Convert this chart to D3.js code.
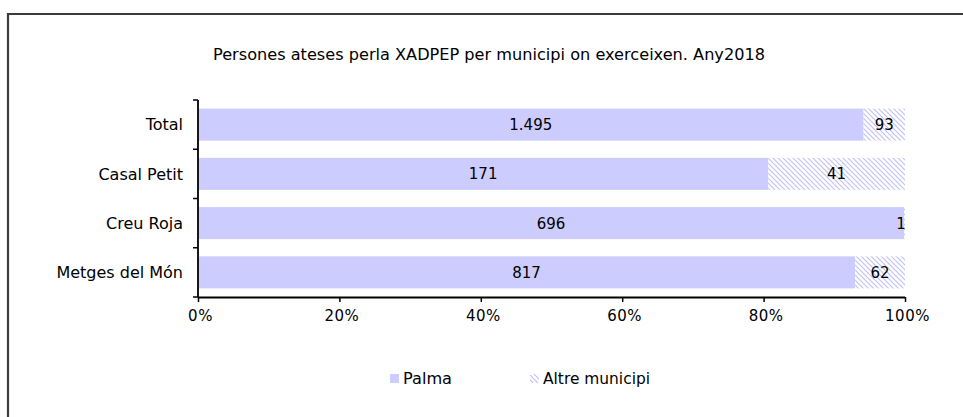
<!DOCTYPE html>
<html>
<head>
<meta charset="utf-8">
<script src="https://cdn.jsdelivr.net/npm/d3@7"></script>
<style>
  html, body { margin: 0; padding: 0; background: #fff; }
  svg { display: block; }
  text { font-family: "DejaVu Sans", Arial, sans-serif; fill: #000; }
</style>
</head>
<body>
<svg id="chart" width="963" height="417"></svg>
<script>
// ---- data ----
const title = "Persones ateses perla XADPEP per municipi on exerceixen. Any2018";
const categories = ["Total", "Casal Petit", "Creu Roja", "Metges del Món"];
const seriesNames = ["Palma", "Altre municipi"];
const palma = [1495, 171, 696, 817];
const altre = [93, 41, 1, 62];
const palmaLabels = ["1.495", "171", "696", "817"];
const altreLabels = ["93", "41", "1", "62"];
const xTicks = [0, 0.2, 0.4, 0.6, 0.8, 1];
const xTickLabels = ["0%", "20%", "40%", "60%", "80%", "100%"];

// ---- layout ----
const W = 963, H = 417;
const plot = { left: 198, right: 905, top: 100, bottom: 297 };
const svg = d3.select("#chart");

const defs = svg.append("defs");
const pat = defs.append("pattern")
  .attr("id", "hatch").attr("patternUnits", "userSpaceOnUse")
  .attr("width", 5).attr("height", 5);
pat.append("rect").attr("width", 5).attr("height", 5).attr("fill", "#fff");
pat.append("path").attr("d", "M-1,-1 L6,6 M-1,4 L1,6 M4,-1 L6,1")
  .attr("stroke", "#c2c2f4").attr("stroke-width", 1.2);

// frame
svg.append("path")
  .attr("d", `M8,${H + 2} L8,14 L${W + 2},14`)
  .attr("fill", "none").attr("stroke", "#3c3c3c").attr("stroke-width", 2.2);

// title
svg.append("text")
  .attr("x", (213 + 765) / 2).attr("y", 60)
  .attr("text-anchor", "middle")
  .attr("font-size", 15)
  .attr("textLength", 552).attr("lengthAdjust", "spacingAndGlyphs")
  .text(title);

// data table
const rows = categories.map((c, i) => ({ cat: c, Palma: palma[i], "Altre municipi": altre[i], i }));
const stacked = d3.stack().keys(seriesNames).offset(d3.stackOffsetExpand)(rows);

const x = d3.scaleLinear().domain([0, 1]).range([plot.left, plot.right]);
const y = d3.scaleBand().domain(categories).range([plot.top, plot.bottom])
  .paddingInner(0.35).paddingOuter(0.175);

const fills = { "Palma": "#ccccff", "Altre municipi": "url(#hatch)" };
const labels = { "Palma": palmaLabels, "Altre municipi": altreLabels };

stacked.forEach(s => {
  const g = svg.append("g");
  g.selectAll("rect").data(s).join("rect")
    .attr("x", d => x(d[0]))
    .attr("y", d => y(d.data.cat))
    .attr("width", d => x(d[1]) - x(d[0]))
    .attr("height", y.bandwidth())
    .attr("fill", fills[s.key]);
});
stacked.forEach(s => {
  svg.append("g").selectAll("text").data(s).join("text")
    .attr("x", d => Math.min((x(d[0]) + x(d[1])) / 2, plot.right - 4))
    .attr("y", d => y(d.data.cat) + y.bandwidth() / 2)
    .attr("dy", "0.36em")
    .attr("text-anchor", "middle")
    .attr("font-size", 15)
    .text(d => labels[s.key][d.data.i]);
});

// y axis
const yAxis = svg.append("g").attr("transform", `translate(${plot.left},0)`)
  .call(d3.axisLeft(y).tickSize(0).tickPadding(15));
yAxis.select(".domain").remove();
yAxis.selectAll("text").attr("font-size", 16).attr("font-family", "DejaVu Sans").attr("dy", "0.36em");
const bounds = categories.map(c => y(c) - y.step() * y.paddingInner() / 2).concat([plot.bottom]);
bounds[0] = plot.top;
svg.append("g").selectAll("line").data(bounds).join("line")
  .attr("x1", plot.left - 5).attr("x2", plot.left)
  .attr("y1", d => d).attr("y2", d => d)
  .attr("stroke", "#000").attr("stroke-width", 1.5);
svg.append("line")
  .attr("x1", plot.left).attr("x2", plot.left)
  .attr("y1", plot.top).attr("y2", plot.bottom)
  .attr("stroke", "#000").attr("stroke-width", 1.8);

// x axis
const xAxis = svg.append("g").attr("transform", `translate(0,${plot.bottom})`)
  .call(d3.axisBottom(x).tickValues(xTicks).tickSize(5).tickPadding(8)
    .tickFormat((d, i) => xTickLabels[i]));
xAxis.select(".domain").attr("stroke", "#000").attr("stroke-width", 1.8)
  .attr("d", `M${plot.left},0.5H${plot.right}`);
xAxis.selectAll(".tick line").attr("stroke", "#000").attr("stroke-width", 1.5);
xAxis.selectAll("text").attr("font-size", 15).attr("font-family", "DejaVu Sans")
  .attr("dx", 2).attr("letter-spacing", 0.5);

// legend
const legend = [
  { name: seriesNames[0], fill: fills["Palma"], sx: 390, tx: 403, w: 49 },
  { name: seriesNames[1], fill: fills["Altre municipi"], sx: 530, tx: 543, w: 107 }
];
const lg = svg.append("g");
legend.forEach(l => {
  lg.append("rect").attr("x", l.sx).attr("y", 374).attr("width", 9).attr("height", 9).attr("fill", l.fill);
  lg.append("text").attr("x", l.tx).attr("y", 384).attr("font-size", 15)
    .attr("textLength", l.w).attr("lengthAdjust", "spacingAndGlyphs").text(l.name);
});
</script>
</body>
</html>
